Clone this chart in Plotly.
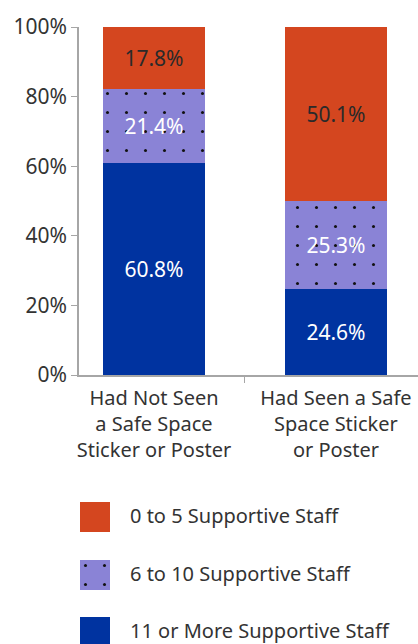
import plotly.graph_objects as go

# Survey groups and the share of students in each supportive-staff band
categories = [
    "Had Not Seen<br>a Safe Space<br>Sticker or Poster",
    "Had Seen a Safe<br>Space Sticker<br>or Poster",
]
series_names = ["11 or More Supportive Staff", "6 to 10 Supportive Staff", "0 to 5 Supportive Staff"]
staff_11_plus = [60.8, 24.6]
staff_6_10 = [21.4, 25.3]
staff_0_5 = [17.8, 50.1]
y_tick_vals = [0, 20, 40, 60, 80, 100]
y_tick_text = ["0%", "20%", "40%", "60%", "80%", "100%"]

RED = "#D4461F"
PURPLE = "#8A83D6"
BLUE = "#0033A0"
FONT = "Noto Sans"
TEXT = "#333333"
AXIS = "#A6A6A6"

W, H = 418, 644
TOP, PLOT_BOTTOM, PLOT_LEFT = 27, 375, 79
LEGEND_TOP = 480
dot_pattern = dict(shape=".", fgcolor="#111111", bgcolor=PURPLE, size=19, solidity=0.02, fillmode="replace")

fig = go.Figure()
stack = [
    (staff_11_plus, BLUE, "white", None),
    (staff_6_10, PURPLE, "white", dot_pattern),
    (staff_0_5, RED, "#2a2a2a", None),
]
for name, (vals, color, tcolor, patt) in zip(series_names, stack):
    marker = dict(color=color, line=dict(width=0))
    if patt:
        marker["pattern"] = patt
    fig.add_trace(go.Bar(
        x=categories, y=vals, name=name, marker=marker, width=0.56,
        texttemplate="%{y:.1f}%", textposition="inside", insidetextanchor="middle",
        textfont=dict(family=FONT, size=21, color=tcolor), showlegend=False,
        constraintext="none", xaxis="x", yaxis="y",
    ))

# Custom legend: swatches drawn in a pixel-space axis below the chart
legend_items = [
    ("0 to 5 Supportive Staff", RED, None, 502),
    ("6 to 10 Supportive Staff", PURPLE, dot_pattern, 560),
    ("11 or More Supportive Staff", BLUE, None, 617),
]
for label, color, patt, top in legend_items:
    marker = dict(color=color, line=dict(width=0))
    if patt:
        marker["pattern"] = patt
    fig.add_trace(go.Bar(
        x=[95], y=[30], base=[top], width=[30], marker=marker,
        showlegend=False, hoverinfo="skip", xaxis="x2", yaxis="y2",
    ))
    fig.add_annotation(
        x=128, y=top + 13, xref="x2", yref="y2", text=label, showarrow=False,
        xanchor="left", yanchor="middle", font=dict(family=FONT, size=20, color=TEXT),
    )

plot_frac_bottom = (H - PLOT_BOTTOM) / (H - TOP)
legend_frac_top = (H - LEGEND_TOP) / (H - TOP)
fig.update_layout(
    width=W, height=H, barmode="stack", bargap=0,
    margin=dict(l=0, r=0, t=TOP, b=0, autoexpand=False),
    paper_bgcolor="white", plot_bgcolor="rgba(0,0,0,0)",
    font=dict(family=FONT, color=TEXT),
    uniformtext=dict(mode=False),
    xaxis=dict(
        domain=[PLOT_LEFT / W, 1], range=[-0.412, 1.451], anchor="y",
        showline=True, linecolor=AXIS, linewidth=1.5, automargin=False,
        ticks="outside", tickson="boundaries", ticklen=6, tickcolor=AXIS,
        ticklabelstandoff=4,
        tickfont=dict(family=FONT, size=20, color=TEXT), showgrid=False,
    ),
    yaxis=dict(
        domain=[plot_frac_bottom, 1], range=[0, 100], anchor="x",
        tickvals=y_tick_vals, ticktext=y_tick_text, automargin=False,
        showline=True, linecolor=AXIS, linewidth=1.5,
        ticks="outside", ticklen=6, tickcolor=AXIS,
        tickfont=dict(family=FONT, size=21, color=TEXT), showgrid=False, zeroline=False,
    ),
    xaxis2=dict(domain=[0, 1], range=[0, W], visible=False, anchor="y2", fixedrange=True),
    yaxis2=dict(domain=[0, legend_frac_top], range=[H, LEGEND_TOP], visible=False, anchor="x2", fixedrange=True),
)

fig.write_html("out.html")
